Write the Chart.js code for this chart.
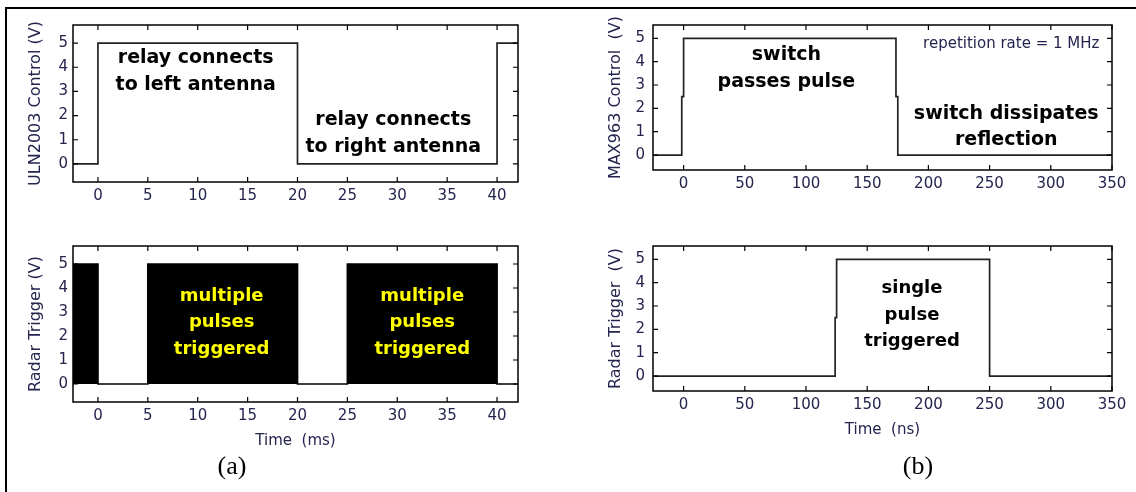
<!DOCTYPE html>
<html>
<head>
<meta charset="utf-8">
<script src="https://cdn.jsdelivr.net/npm/chart.js@4.4.1/dist/chart.umd.min.js"></script>
<style>
  html, body { margin: 0; padding: 0; background: #fff; }
  #page { position: relative; width: 1136px; height: 492px; overflow: hidden; background: #fff; }
  #frame { position: absolute; left: 5px; top: 7px; right: -10px; bottom: -10px;
           border-left: 2px solid #000; border-top: 2px solid #000; }
  canvas { position: absolute; left: 0; top: 0; }
  .cap { position: absolute; font-family: "Liberation Serif", "Times New Roman", serif;
         font-size: 26px; color: #000; transform: translate(-50%, -50%); white-space: nowrap; }
</style>
</head>
<body>
<div id="page">
  <div id="frame"></div>
  <canvas id="c1" width="1136" height="492"></canvas>
  <canvas id="c2" width="1136" height="492"></canvas>
  <canvas id="c3" width="1136" height="492"></canvas>
  <canvas id="c4" width="1136" height="492"></canvas>
  <div class="cap" style="left:232px; top:466px;">(a)</div>
  <div class="cap" style="left:918px; top:466px;">(b)</div>
</div>
<script>
// ---- (a) relay timing, milliseconds ----
const relayTimeMs  = [-2.5, 0, 0, 20, 20, 40, 40, 42.1];
const relayVolts   = [0, 0, 5, 5, 0, 0, 5, 5];
// burst envelope of the radar trigger pulses (filled where pulses are dense)
const burstTimeMs  = [-2.5, 0, 0, 5, 5, 20, 20, 25, 25, 40, 40, 42.1];
const burstVolts   = [5, 5, 0, 0, 5, 5, 0, 0, 5, 5, 0, 0];
const msTicks      = [0, 5, 10, 15, 20, 25, 30, 35, 40];

// ---- (b) switch timing, nanoseconds ----
const switchTimeNs = [-25, -1.5, -1.5, 0, 0, 173.5, 173.5, 175, 175, 350];
const switchVolts  = [0, 0, 2.5, 2.5, 5, 5, 2.5, 2.5, 0, 0];
const pulseTimeNs  = [-25, 123.8, 123.8, 125, 125, 250, 250, 350];
const pulseVolts   = [0, 0, 2.5, 2.5, 5, 5, 0, 0];
const nsTicks      = [0, 50, 100, 150, 200, 250, 300, 350];

const voltTicks    = [0, 1, 2, 3, 4, 5];

const toPoints = (xs, ys) => xs.map((x, i) => ({ x, y: ys[i] }));

const TICK_COLOR = '#24244e';
const FONT = '"DejaVu Sans", Arial, sans-serif';
const W = 1136, H = 492;
const Y_AXIS_W = 60, X_AXIS_H = 50;

// Box outline, inward tick marks on all four sides, and text notes in data space
const boxPlugin = {
  id: 'boxAndNotes',
  afterDraw(chart, args, opts) {
    const { ctx, chartArea: a, scales: { x, y } } = chart;
    ctx.save();
    ctx.strokeStyle = '#000';
    ctx.lineWidth = 1.5;
    ctx.strokeRect(a.left, a.top, a.right - a.left, a.bottom - a.top);
    const tl = 5;
    ctx.lineWidth = 1.2;
    ctx.beginPath();
    x.ticks.forEach(t => {
      const px = x.getPixelForValue(t.value);
      ctx.moveTo(px, a.bottom); ctx.lineTo(px, a.bottom - tl);
      ctx.moveTo(px, a.top); ctx.lineTo(px, a.top + tl);
    });
    y.ticks.forEach(t => {
      const py = y.getPixelForValue(t.value);
      ctx.moveTo(a.left, py); ctx.lineTo(a.left + tl, py);
      ctx.moveTo(a.right, py); ctx.lineTo(a.right - tl, py);
    });
    ctx.stroke();
    ctx.textAlign = 'center';
    ctx.textBaseline = 'middle';
    (opts.notes || []).forEach(n => {
      ctx.font = n.font;
      ctx.fillStyle = n.color;
      n.lines.forEach((line, i) => {
        ctx.fillText(line, x.getPixelForValue(n.x), y.getPixelForValue(n.y[i]));
      });
    });
    ctx.restore();
  }
};

function makePanel(id, box, cfg) {
  const yAxis = {
    type: 'linear', min: cfg.yMin, max: cfg.yMax,
    afterBuildTicks: s => { s.ticks = voltTicks.map(v => ({ value: v })); },
    afterFit: s => { s.width = Y_AXIS_W; },
    grid: { display: false, drawTicks: false }, border: { display: false },
    ticks: { color: TICK_COLOR, font: { family: FONT, size: 15 }, padding: cfg.yPad, autoSkip: false },
    title: { display: true, text: cfg.yTitle, color: TICK_COLOR,
             font: { family: FONT, size: 16 }, padding: { top: 13, bottom: 0 } }
  };
  const xAxis = {
    type: 'linear', min: cfg.xMin, max: cfg.xMax,
    afterBuildTicks: s => { s.ticks = cfg.xTicks.map(v => ({ value: v })); },
    afterFit: s => { s.height = X_AXIS_H; },
    grid: { display: false, drawTicks: false }, border: { display: false },
    ticks: { color: TICK_COLOR, font: { family: FONT, size: 15 }, padding: 5, autoSkip: false, maxRotation: 0 },
    title: { display: !!cfg.xTitle, text: cfg.xTitle || '', color: TICK_COLOR,
             font: { family: FONT, size: 15 }, padding: { top: 0, bottom: 2 } }
  };
  return new Chart(document.getElementById(id), {
    type: 'line',
    data: { datasets: [{
      data: cfg.points,
      borderColor: cfg.fill ? '#000' : '#222',
      backgroundColor: '#000',
      borderWidth: 1.7,
      fill: cfg.fill ? 'origin' : false,
      pointRadius: 0, tension: 0
    }] },
    options: {
      responsive: false, animation: false, events: [],
      layout: { padding: { left: box.l - Y_AXIS_W, top: box.t, right: W - box.r, bottom: H - box.b - X_AXIS_H } },
      plugins: { legend: { display: false }, tooltip: { enabled: false }, boxAndNotes: { notes: cfg.notes } },
      scales: { x: xAxis, y: yAxis }
    },
    plugins: [boxPlugin]
  });
}

const bold19 = `bold 19px ${FONT}`;
const bold18 = `bold 18px ${FONT}`;

makePanel('c1', { l: 73, t: 25, r: 518, b: 182 }, {
  points: toPoints(relayTimeMs, relayVolts),
  xMin: -2.5, xMax: 42.1, yMin: -0.75, yMax: 5.75, xTicks: msTicks, yPad: 5,
  yTitle: 'ULN2003 Control (V)',
  notes: [
    { lines: ['relay connects', 'to left antenna'], x: 9.8, y: [4.38, 3.26], font: bold19, color: '#000' },
    { lines: ['relay connects', 'to right antenna'], x: 29.6, y: [1.82, 0.70], font: bold19, color: '#000' }
  ]
});

makePanel('c2', { l: 73, t: 246, r: 518, b: 402 }, {
  points: toPoints(burstTimeMs, burstVolts), fill: true,
  xMin: -2.5, xMax: 42.1, yMin: -0.75, yMax: 5.75, xTicks: msTicks, yPad: 5,
  yTitle: 'Radar Trigger (V)', xTitle: 'Time  (ms)',
  notes: [
    { lines: ['multiple', 'pulses', 'triggered'], x: 12.4, y: [3.65, 2.57, 1.45], font: bold18, color: '#ffff00' },
    { lines: ['multiple', 'pulses', 'triggered'], x: 32.5, y: [3.65, 2.57, 1.45], font: bold18, color: '#ffff00' }
  ]
});

makePanel('c3', { l: 653, t: 25, r: 1112, b: 170 }, {
  points: toPoints(switchTimeNs, switchVolts),
  xMin: -25, xMax: 350, yMin: -0.64, yMax: 5.57, xTicks: nsTicks, yPad: 8,
  yTitle: 'MAX963 Control  (V)',
  notes: [
    { lines: ['switch', 'passes pulse'], x: 84, y: [4.28, 3.14], font: bold19, color: '#000' },
    { lines: ['repetition rate = 1 MHz'], x: 267.7, y: [4.76], font: `15px ${FONT}`, color: TICK_COLOR },
    { lines: ['switch dissipates', 'reflection'], x: 263.6, y: [1.74, 0.64], font: bold19, color: '#000' }
  ]
});

makePanel('c4', { l: 653, t: 246, r: 1112, b: 391 }, {
  points: toPoints(pulseTimeNs, pulseVolts),
  xMin: -25, xMax: 350, yMin: -0.64, yMax: 5.57, xTicks: nsTicks, yPad: 8,
  yTitle: 'Radar Trigger  (V)', xTitle: 'Time  (ns)',
  notes: [
    { lines: ['single', 'pulse', 'triggered'], x: 186.6, y: [3.74, 2.60, 1.50], font: bold18, color: '#000' }
  ]
});
</script>
</body>
</html>
